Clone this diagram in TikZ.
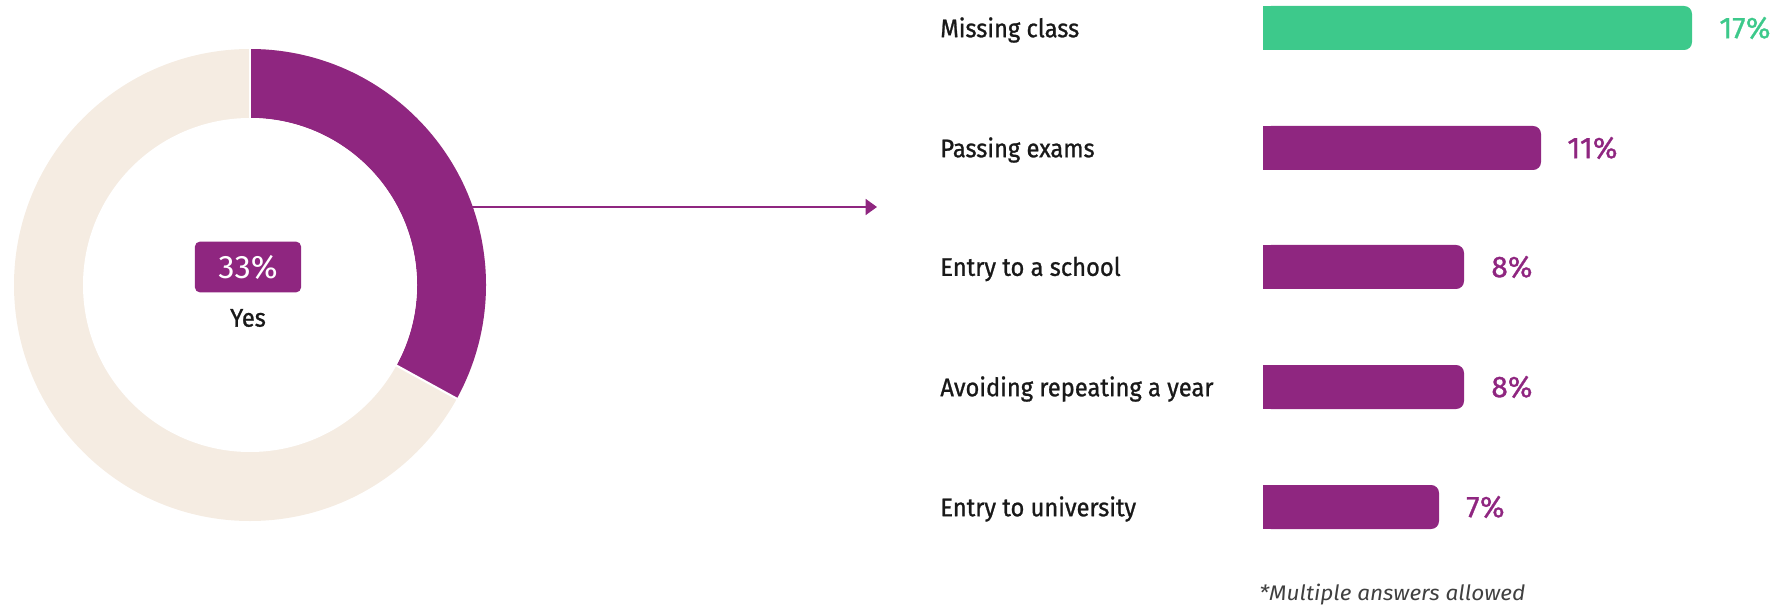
\documentclass[tikz,border=0pt]{standalone}
\usepackage{fontspec}
\setmainfont{Fira Sans}
\newfontfamily\medfont{Fira Sans}[FakeBold=1,FakeStretch=0.93]
\newfontfamily\pctfont{Fira Sans}[FakeBold=1]
\newfontfamily\notefont{Fira Sans}[FakeStretch=1.07]
\usepackage{tikz}
\usetikzlibrary{arrows.meta,calc,positioning}
\definecolor{plum}{HTML}{8F2680}
\definecolor{mint}{HTML}{3DC98B}
\definecolor{sand}{HTML}{F5ECE2}
\tikzset{>=stealth}
\tikzset{%
    lbl/.style={anchor=west, inner sep=0pt, text=black!90,
        font=\medfont\fontsize{14.5}{17}\selectfont},
    pct/.style={anchor=west, inner sep=0pt,
        font=\pctfont\fontsize{17}{20}\selectfont},
}

\begin{document}
\begin{tikzpicture}[x=0.02cm, y=0.02cm]
    \useasboundingbox (0,0) rectangle (1787,609);
    % donut
    \coordinate (don) at (250,324);
    \fill[sand] (don) circle (236);
    \fill[plum] ($(don)+(90:236)$) arc[start angle=90, end angle=-28.8, radius=236]
        -- ($(don)+(-28.8:167)$) arc[start angle=-28.8, end angle=90, radius=167] -- cycle;
    \fill[white] (don) circle (167);
    \draw[white, line width=1.2pt] ($(don)+(90:160)$) -- ($(don)+(90:240)$);
    \draw[white, line width=1.2pt] ($(don)+(-28.8:160)$) -- ($(don)+(-28.8:240)$);
    \node[fill=plum, text=white, rounded corners=3pt, minimum width=60.5pt,
        minimum height=29pt, inner sep=0pt, font=\fontsize{18.5}{20}\selectfont]
        (yes) at (248,342) {33\%};
    \node[inner sep=0pt, text=black!90, font=\medfont\fontsize{14.5}{17}\selectfont]
        (yeslbl) at (248,291) {Yes};
    % arrow
    \coordinate (arcR) at (472,402);
    \coordinate (arrE) at (877,402);
    \draw[-{Triangle[length=6.5pt,width=9pt]}, plum, line width=1.4pt] (arcR) -- (arrE);
    % bars
    \fill[mint, rounded corners=4.5pt] (1263,559) rectangle (1692,603);
    \fill[mint] (1263,559) rectangle (1290,603);
    \node[lbl] (l1) at (940,579) {Missing class};
    \node[pct, text=mint] (p1) at (1719,581) {17\%};
    \fill[plum, rounded corners=4.5pt] (1263,439) rectangle (1541,483);
    \fill[plum] (1263,439) rectangle (1290,483);
    \node[lbl] (l2) at (940,459) {Passing exams};
    \node[pct, text=plum] (p2) at (1567,461) {11\%};
    \fill[plum, rounded corners=4.5pt] (1263,320) rectangle (1464,364);
    \fill[plum] (1263,320) rectangle (1290,364);
    \node[lbl] (l3) at (940,340) {Entry to a school};
    \node[pct, text=plum] (p3) at (1491,342) {8\%};
    \fill[plum, rounded corners=4.5pt] (1263,200) rectangle (1464,244);
    \fill[plum] (1263,200) rectangle (1290,244);
    \node[lbl] (l4) at (940,220) {Avoiding repeating a year};
    \node[pct, text=plum] (p4) at (1491,222) {8\%};
    \fill[plum, rounded corners=4.5pt] (1263,80) rectangle (1439,124);
    \fill[plum] (1263,80) rectangle (1290,124);
    \node[lbl] (l5) at (940,100) {Entry to university};
    \node[pct, text=plum] (p5) at (1466,102) {7\%};
    % note
    \node[anchor=west, inner sep=0pt, text=black!75, font=\notefont\fontsize{12}{14}\itshape]
        (note) at (1259,14) {*Multiple answers allowed};
\end{tikzpicture}
\end{document}
